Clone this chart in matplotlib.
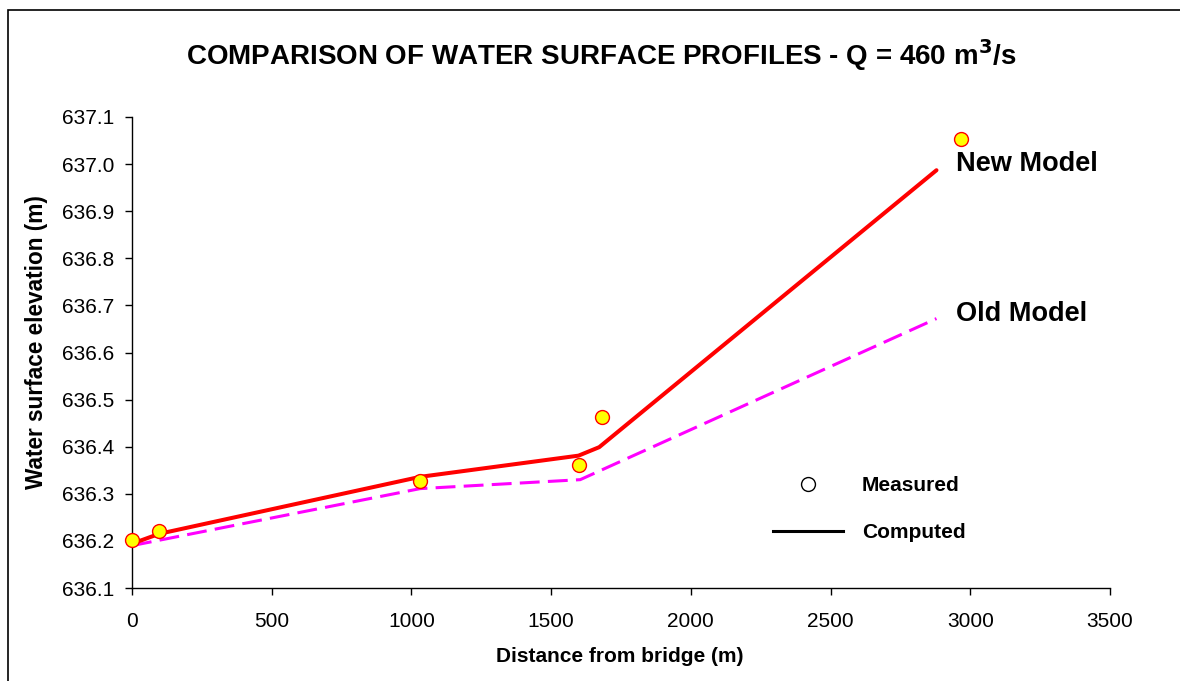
import matplotlib
matplotlib.use("Agg")
import matplotlib.pyplot as plt
from matplotlib.lines import Line2D
from matplotlib.patches import Rectangle

plt.rcParams['font.family'] = ['Liberation Sans', 'DejaVu Sans']

# Data
measured_x = [0, 97, 1031, 1598, 1683, 2965]
measured_y = [636.202, 636.221, 636.328, 636.362, 636.463, 637.053]
new_x = [0, 97, 1031, 1598, 1672, 2879]
new_y = [636.194, 636.215, 636.336, 636.381, 636.399, 636.987]
old_x = [0, 1031, 1604, 2879]
old_y = [636.190, 636.311, 636.330, 636.672]
x_ticks = [0, 500, 1000, 1500, 2000, 2500, 3000, 3500]
y_ticks = [636.1, 636.2, 636.3, 636.4, 636.5, 636.6, 636.7, 636.8, 636.9, 637.0, 637.1]

W, H = 1180, 681
fig = plt.figure(figsize=(W / 100, H / 100), dpi=100)
ax = fig.add_axes([132 / W, 1 - 588 / H, (1110 - 132) / W, (588 - 117) / H])

ax.plot(old_x, old_y, color='#ff00ff', lw=2.2, dashes=(6.5, 2.7), zorder=2)
ax.plot(new_x, new_y, color='#ff0000', lw=2.9, solid_capstyle='round', zorder=3)
ax.plot(measured_x, measured_y, ls='none', marker='o', ms=10,
        mfc='#ffff00', mec='#ff0000', mew=1.0, zorder=4, clip_on=False)

ax.set_xlim(0, 3500)
ax.set_ylim(636.1, 637.1)
ax.set_xticks(x_ticks)
ax.set_xticklabels([str(v) for v in x_ticks])
ax.set_yticks(y_ticks)
ax.set_yticklabels([f"{v:.1f}" for v in y_ticks])
ax.tick_params(axis='both', direction='out', length=5, width=1, labelsize=15, colors='black')
ax.tick_params(axis='x', pad=12)
ax.tick_params(axis='y', pad=8)
for s in ['top', 'right']:
    ax.spines[s].set_visible(False)
for s in ['left', 'bottom']:
    ax.spines[s].set_linewidth(1.0)

fig.text(601 / W, 1 - 55 / H, r"COMPARISON OF WATER SURFACE PROFILES - Q = 460 m$^\mathbf{3}$/s",
         ha='center', va='center', fontsize=20, fontweight='bold')
fig.text(620 / W, 1 - 657 / H, "Distance from bridge (m)", ha='center', va='center',
         fontsize=15, fontweight='bold')
fig.text(37 / W, 1 - 342 / H, "Water surface elevation (m)", ha='center', va='center',
         rotation=90, fontsize=16.3, fontweight='bold')

fig.text(956 / W, 1 - 164 / H, "New Model", ha='left', va='center', fontsize=19.5, fontweight='bold')
fig.text(956 / W, 1 - 314 / H, "Old Model", ha='left', va='center', fontsize=19.5, fontweight='bold')

handles = [Line2D([], [], ls='none', marker='o', ms=10, mfc='white', mec='black', mew=1.0),
           Line2D([], [], color='black', lw=2.2)]
leg = ax.legend(handles, ["Measured", "Computed"], loc='upper left',
                bbox_to_anchor=(773 / W, 1 - 476 / H), bbox_transform=fig.transFigure,
                frameon=False, borderpad=0, borderaxespad=0, handlelength=3.36,
                handletextpad=0.9, labelspacing=1.35, prop={'size': 15, 'weight': 'bold'})

fig.patches.append(Rectangle((7.5 / W, -0.05), 1.2, 1 - 10 / H + 0.05, transform=fig.transFigure,
                             fill=False, edgecolor='black', lw=1.2, figure=fig))

fig.savefig("out.png", dpi=100)
